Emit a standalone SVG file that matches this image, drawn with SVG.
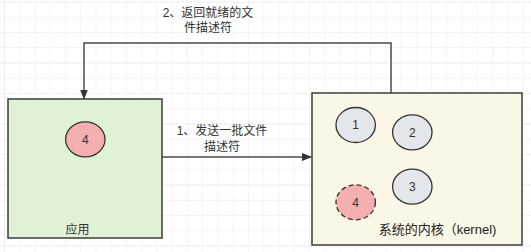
<svg xmlns="http://www.w3.org/2000/svg" width="531" height="252" viewBox="0 0 531 252">
<defs>
<pattern id="minor" x="4" y="1.5" width="15.25" height="15.25" patternUnits="userSpaceOnUse">
<path d="M0,0 V15.25 M0,0 H15.25" fill="none" stroke="#f0f0f0" stroke-width="1.2"/>
</pattern>
<pattern id="major" x="4" y="1.5" width="61" height="61" patternUnits="userSpaceOnUse">
<path d="M0,0 V61 M0,0 H61" fill="none" stroke="#e8e8e8" stroke-width="1.2"/>
</pattern>
<marker id="arrow" markerWidth="10" markerHeight="8" refX="9" refY="4" orient="auto" markerUnits="userSpaceOnUse">
<path d="M0,0 L10,4 L0,8 Z" fill="#333"/>
</marker>
</defs>
<style>
.box{stroke:#3c3c3c;stroke-width:1.5}
.c{stroke:#333;stroke-width:1.3}
.gray{fill:#e3e6ea}
.pink{fill:#f4b0b0}
.t{font-family:"Liberation Sans","Noto Sans CJK SC",sans-serif;font-size:12px;fill:#333;text-anchor:middle}
.n{font-family:"Liberation Sans",sans-serif;font-size:12px;fill:#333;text-anchor:middle}
.edge{fill:none;stroke:#4a4a4a;stroke-width:1.5}
</style>
<rect width="531" height="252" fill="#ffffff"/>
<rect width="531" height="252" fill="url(#minor)"/>
<rect width="531" height="252" fill="url(#major)"/>

<g id="connectors">
<path class="edge" d="M162,157 H311" marker-end="url(#arrow)"/>
<path class="edge" d="M391,93 V43 H84 V98.5" marker-end="url(#arrow)"/>
<text class="t" x="222" y="135">1、发送一批文件</text>
<text class="t" x="222" y="151">描述符</text>
<text class="t" x="208" y="17">2、返回就绪的文</text>
<text class="t" x="208" y="32">件描述符</text>
</g>

<g id="app">
<rect class="box" x="8" y="99" width="154" height="139" fill="#dff2d6"/>
<text class="t" x="77.5" y="234">应用</text>
</g>
<g id="app-fd4">
<ellipse class="c pink" cx="85.3" cy="139.3" rx="19.7" ry="17.5"/>
<text class="n" x="85.3" y="143.5">4</text>
</g>

<g id="kernel">
<rect class="box" x="312" y="93" width="210" height="152" fill="#fbf7e6"/>
<text class="t" x="437.5" y="234" style="font-size:13px;fill:#222">系统的内核（kernel)</text>
</g>
<g id="fd1">
<ellipse class="c gray" cx="355.7" cy="125" rx="19.7" ry="17.5"/>
<text class="n" x="355.7" y="129.2">1</text>
</g>
<g id="fd2">
<ellipse class="c gray" cx="412.3" cy="132.3" rx="19.7" ry="17.5"/>
<text class="n" x="412.3" y="136.5">2</text>
</g>
<g id="fd3">
<ellipse class="c gray" cx="412.3" cy="186.7" rx="19.7" ry="17.5"/>
<text class="n" x="412.3" y="190.9">3</text>
</g>
<g id="fd4">
<ellipse class="c pink" cx="355.7" cy="202.3" rx="19.7" ry="17.5" stroke-dasharray="5,3"/>
<text class="n" x="355.7" y="206.5">4</text>
</g>
</svg>
